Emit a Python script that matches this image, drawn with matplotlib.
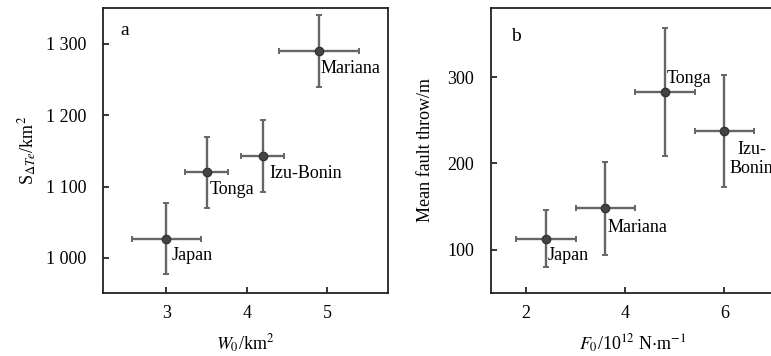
import matplotlib
matplotlib.use("Agg")
import matplotlib.pyplot as plt

plt.rcParams["font.family"] = ["Liberation Serif", "DejaVu Serif"]
plt.rcParams["mathtext.fontset"] = "stix"

# (a) slab width vs. area of thermal anomaly
names_a = ["Japan", "Tonga", "Izu-Bonin", "Mariana"]
w0 = [3.0, 3.5, 4.2, 4.9]
w0_err = [0.43, 0.27, 0.27, 0.5]
s_dte = [1027, 1120, 1143, 1290]
s_dte_err = [50, 50, 50, 50]
label_pos_a = [(3.06, 1003), (3.54, 1096), (4.28, 1119), (4.92, 1265)]

# (b) bending force vs. mean fault throw
names_b = ["Japan", "Mariana", "Tonga", "Izu-\nBonin"]
f0 = [2.4, 3.6, 4.8, 6.0]
f0_err = [0.6, 0.6, 0.6, 0.6]
throw = [113, 148, 283, 238]
throw_err = [33, 54, 74, 65]
label_pos_b = [(2.43, 93), (3.65, 126), (4.83, 298), (6.55, 205)]

FS = 13
ebar = dict(fmt="o", color="#555555", ecolor="#666666", elinewidth=1.7,
            capsize=2, capthick=1.4, markersize=6, markerfacecolor="#444444",
            markeredgecolor="#333333")

fig = plt.figure(figsize=(7.71, 3.56), dpi=100)
W, H = 771, 356
ax_a = fig.add_axes([103 / W, 1 - 293 / H, 285 / W, 285 / H])
ax_b = fig.add_axes([491 / W, 1 - 293 / H, 283 / W, 285 / H])


def style(ax):
    for sp in ax.spines.values():
        sp.set_linewidth(1.3)
        sp.set_color("#222222")
    ax.tick_params(direction="in", length=4, width=1.1, labelsize=FS,
                   top=False, right=False)
    ax.tick_params(axis="x", pad=9)
    ax.tick_params(axis="y", pad=12)


ax_a.errorbar(w0, s_dte, xerr=w0_err, yerr=s_dte_err, **ebar)
for n, (x, y) in zip(names_a, label_pos_a):
    ax_a.text(x, y, n, fontsize=FS, va="center", ha="left")
ax_a.set_xlim(2.21, 5.76)
ax_a.set_ylim(951, 1350)
ax_a.set_xticks([3, 4, 5])
ax_a.set_yticks([1000, 1100, 1200, 1300])
ax_a.set_yticklabels(["1 000", "1 100", "1 200", "1 300"])
ax_a.set_xlabel(r"$W_0$/km$^2$", fontsize=FS, labelpad=7)
ax_a.set_ylabel(r"S$_{\Delta Te}$/km$^2$", fontsize=FS, labelpad=5)
ax_a.text(0.06, 0.92, "a", transform=ax_a.transAxes, fontsize=FS + 1,
          va="center")
style(ax_a)

ax_b.errorbar(f0, throw, xerr=f0_err, yerr=throw_err, **ebar)
for n, (x, y) in zip(names_b, label_pos_b):
    ax_b.text(x, y, n, fontsize=FS, va="center",
              ha="center" if "\n" in n else "left",
              multialignment="center", linespacing=1.2)
ax_b.set_xlim(1.29, 7.0)
ax_b.set_ylim(50, 380)
ax_b.set_xticks([2, 4, 6])
ax_b.set_yticks([100, 200, 300])
ax_b.set_xlabel(r"$F_0$/10$^{12}$ N$\cdot$m$^{-1}$", fontsize=FS, labelpad=7)
ax_b.set_ylabel("Mean fault throw/m", fontsize=FS, labelpad=10)
ax_b.text(0.07, 0.9, "b", transform=ax_b.transAxes, fontsize=FS + 1,
          va="center")
style(ax_b)

fig.savefig("out.png", dpi=100)
